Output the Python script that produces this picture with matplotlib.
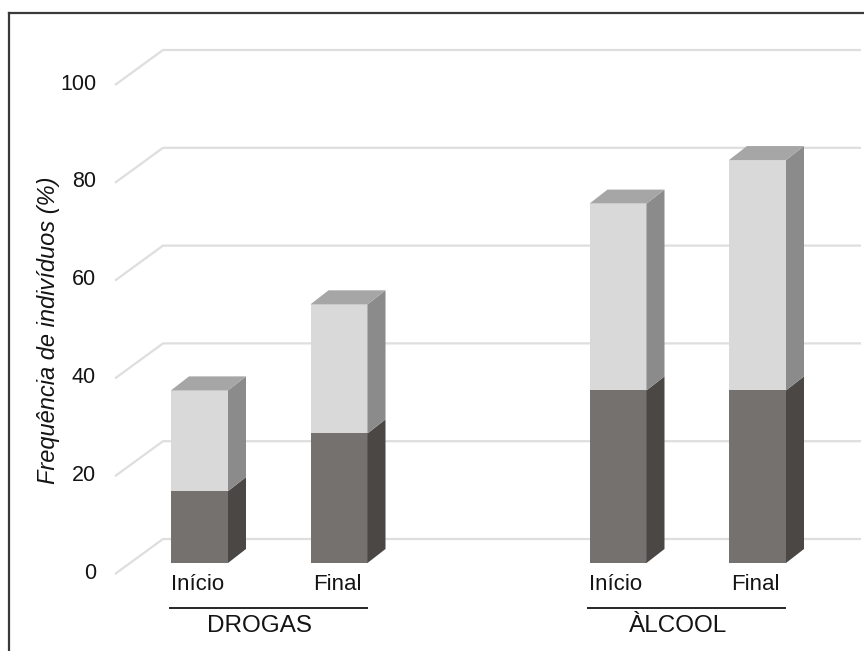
import matplotlib
matplotlib.use("Agg")
import matplotlib.pyplot as plt
from matplotlib.patches import Polygon
from matplotlib.lines import Line2D

plt.rcParams["font.family"] = ["Liberation Sans", "DejaVu Sans"]

# ---- data -------------------------------------------------------------
categories = ["Início", "Final", "Início", "Final"]
groups = ["DROGAS", "ÀLCOOL"]
group_of_bar = [0, 0, 1, 1]
positions = [0, 1, 3, 4]
lower_values = [14.7, 26.5, 35.3, 35.3]      # dark segment
upper_values = [20.6, 26.4, 38.2, 47.1]      # light segment stacked on top
y_ticks = [0, 20, 40, 60, 80, 100]

# ---- styling ----------------------------------------------------------
W, H = 864, 651
SX = 139.5          # pixels per category slot
SY = 4.89           # pixels per percentage point
X_ORIGIN_PX = 199.5  # pixel x of first bar centre
Y_ORIGIN_PX = 563.0  # pixel y of bar baseline (front face)

BAR_W = 57 / SX
BAR_DX, BAR_DY = 18 / SX, 14 / SY          # bar depth
FRONT_DX, FRONT_DY = -15 / SX, -11 / SY    # front wall relative to bar front
BACK_DX, BACK_DY = 33 / SX, 24 / SY        # back wall relative to bar front
WALL_LEFT = (163 - X_ORIGIN_PX) / SX
WALL_RIGHT = (861 - X_ORIGIN_PX) / SX

DARK_FRONT, DARK_SIDE = "#75716f", "#4b4745"
LIGHT_FRONT, LIGHT_SIDE = "#d9d9d9", "#8b8b8b"
TOP_FACE = "#a6a6a6"
GRID = "#dedede"
TEXT = "#141414"

fig = plt.figure(figsize=(W / 100, H / 100), dpi=100)
ax = fig.add_axes([0, 0, 1, 1])
ax.set_xlim((0 - X_ORIGIN_PX) / SX, (W - X_ORIGIN_PX) / SX)
ax.set_ylim((Y_ORIGIN_PX - H) / SY, Y_ORIGIN_PX / SY)
ax.axis("off")

# ---- walls: gridlines on side wall and back wall ---------------------
for v in y_ticks:
    yb = v + BACK_DY
    xf = WALL_LEFT - (BACK_DX - FRONT_DX)
    yf = v + FRONT_DY
    ax.plot([xf, WALL_LEFT, WALL_RIGHT], [yf, yb, yb], color=GRID,
            lw=1.6, solid_capstyle="butt", zorder=1)
    ax.text(xf - 19 / SX, yf + 0.2, f"{v}", ha="right", va="center",
            fontsize=15.5, color=TEXT)


# ---- bars -------------------------------------------------------------
def box(x, y0, y1, front, side, top=None):
    xl, xr = x - BAR_W / 2, x + BAR_W / 2
    ax.add_patch(Polygon([(xl, y0), (xr, y0), (xr, y1), (xl, y1)],
                         closed=True, fc=front, ec="none", zorder=3))
    ax.add_patch(Polygon([(xr, y0), (xr + BAR_DX, y0 + BAR_DY),
                          (xr + BAR_DX, y1 + BAR_DY), (xr, y1)],
                         closed=True, fc=side, ec="none", zorder=3))
    if top is not None:
        ax.add_patch(Polygon([(xl, y1), (xr, y1), (xr + BAR_DX, y1 + BAR_DY),
                              (xl + BAR_DX, y1 + BAR_DY)],
                             closed=True, fc=top, ec="none", zorder=3))


for p, lo, up in zip(positions, lower_values, upper_values):
    box(p, 0, lo, DARK_FRONT, DARK_SIDE)
    box(p, lo, lo + up, LIGHT_FRONT, LIGHT_SIDE, TOP_FACE)

# ---- category axis (two levels) --------------------------------------
cat_y = (Y_ORIGIN_PX - 585) / SY
for p, c in zip(positions, categories):
    ax.text(p - 2 / SX, cat_y, c, ha="center", va="center",
            fontsize=16, color=TEXT)

line_y = (Y_ORIGIN_PX - 607.5) / SY
grp_y = (Y_ORIGIN_PX - 626) / SY
for gi, g in enumerate(groups):
    members = [p for p, k in zip(positions, group_of_bar) if k == gi]
    x0, x1 = min(members), max(members)
    ax.plot([x0 - 0.22, x1 + 0.205], [line_y, line_y], color="#262626",
            lw=1.4, solid_capstyle="butt", zorder=2)
    ax.text((x0 + x1) / 2 - 0.07, grp_y, g, ha="center", va="center",
            fontsize=17.5, color=TEXT)

# ---- value axis title -------------------------------------------------
fig.text(49 / W, 1 - 330 / H, "Frequência de indivíduos (%)", rotation=90,
         ha="center", va="center", fontsize=17, style="italic", color=TEXT)

# ---- chart frame ------------------------------------------------------
fy = 1 - 13 / H
fx = 8.5 / W
fig.add_artist(Line2D([fx, 1], [fy, fy], color="#3a3a3a", lw=1.6,
                      transform=fig.transFigure))
fig.add_artist(Line2D([fx, fx], [0, fy], color="#3a3a3a", lw=1.6,
                      transform=fig.transFigure))

fig.savefig("out.png", dpi=100)
